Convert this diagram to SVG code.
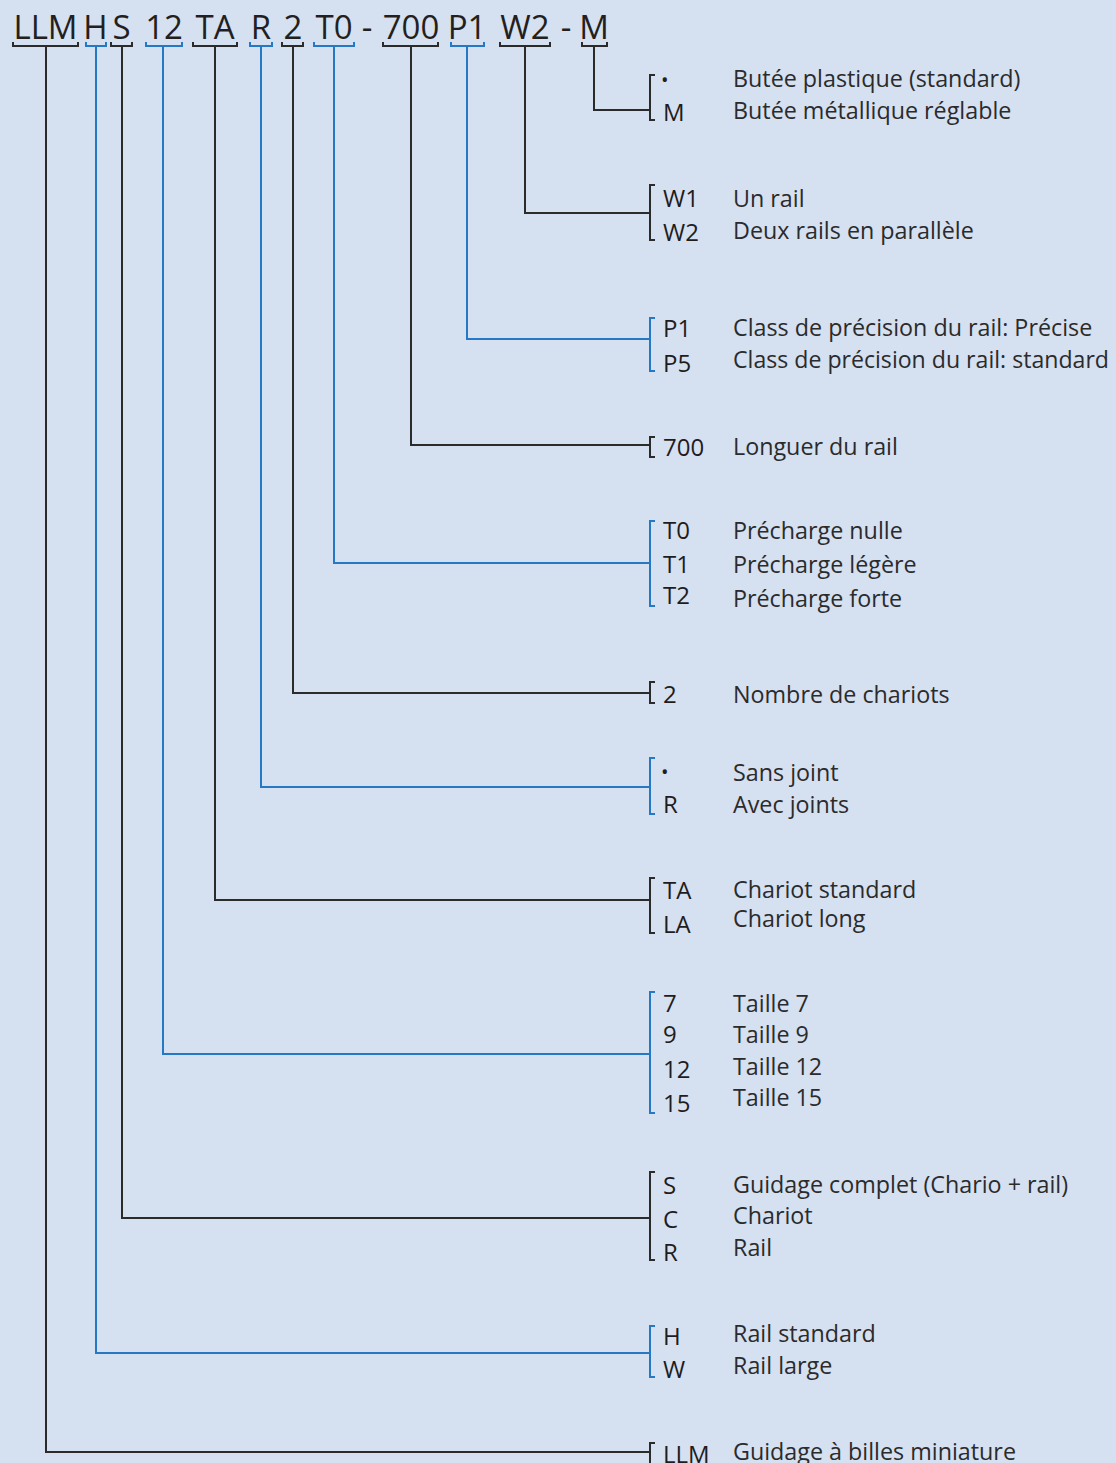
<svg xmlns="http://www.w3.org/2000/svg" width="1116" height="1463" viewBox="0 0 1116 1463">
<style>
.hd{font-family:"Open Sans","Noto Sans",sans-serif;font-size:33px;fill:#231f20;text-anchor:middle}
.cd{font-family:"Open Sans","Noto Sans",sans-serif;font-size:24px;fill:#1f1c1d}
.ds{font-family:"Open Sans","Noto Sans",sans-serif;font-size:23.3px;fill:#2b2b2b}
.dot{font-family:"Open Sans","Noto Sans",sans-serif;font-size:20px;fill:#231f20}
.k{fill:none;stroke:#2b2b2b;stroke-width:2}
.b{fill:none;stroke:#2579c4;stroke-width:2}
</style>
<rect width="1116" height="1463" fill="#d5e0f1"/>
<g id="header">
<text class="hd" x="45.5" y="39">LLM</text>
<text class="hd" x="95.5" y="39">H</text>
<text class="hd" x="121.5" y="39">S</text>
<text class="hd" x="164" y="39">12</text>
<text class="hd" x="215" y="39">TA</text>
<text class="hd" x="261" y="39">R</text>
<text class="hd" x="293" y="39">2</text>
<text class="hd" x="334" y="39">T0</text>
<text class="hd" x="367" y="39">-</text>
<text class="hd" x="411" y="39">700</text>
<text class="hd" x="467" y="39">P1</text>
<text class="hd" x="525" y="39">W2</text>
<text class="hd" x="566" y="39">-</text>
<text class="hd" x="594" y="39">M</text>
<path class="k" d="M13 42V46H78V42"/>
<path class="b" d="M86 42V46H106V42"/>
<path class="k" d="M111 42V46H132V42"/>
<path class="b" d="M146 42V46H182V42"/>
<path class="k" d="M193 42V46H237V42"/>
<path class="b" d="M250 42V46H272V42"/>
<path class="k" d="M282 42V46H303V42"/>
<path class="b" d="M314 42V46H354V42"/>
<path class="k" d="M383 42V46H438V42"/>
<path class="b" d="M451 42V46H484V42"/>
<path class="k" d="M500 42V46H550V42"/>
<path class="k" d="M582 42V46H607V42"/>
</g>
<g id="connectors">
<path class="k" d="M594 46V110H650"/>
<path class="k" d="M525 46V213H650"/>
<path class="b" d="M467 46V339H650"/>
<path class="k" d="M411 46V445H650"/>
<path class="b" d="M334 46V563H650"/>
<path class="k" d="M293 46V693H650"/>
<path class="b" d="M261 46V787H650"/>
<path class="k" d="M215 46V900H650"/>
<path class="b" d="M163 46V1054H650"/>
<path class="k" d="M122 46V1218H650"/>
<path class="b" d="M96 46V1353H650"/>
<path class="k" d="M46 46V1452H650"/>
</g>
<g id="node-M">
<path class="k" d="M655 75H650V120H655"/>
<text class="dot" x="661" y="87">•</text>
<text class="cd" x="663" y="121">M</text>
<text class="ds" x="733" y="87">Butée plastique (standard)</text>
<text class="ds" x="733" y="119">Butée métallique réglable</text>
</g>
<g id="node-W">
<path class="k" d="M655 185H650V240H655"/>
<text class="cd" x="663" y="207">W1</text>
<text class="cd" x="663" y="241">W2</text>
<text class="ds" x="733" y="207">Un rail</text>
<text class="ds" x="733" y="239">Deux rails en parallèle</text>
</g>
<g id="node-P">
<path class="b" d="M655 318H650V371H655"/>
<text class="cd" x="663" y="337">P1</text>
<text class="cd" x="663" y="372">P5</text>
<text class="ds" x="733" y="336">Class de précision du rail: Précise</text>
<text class="ds" x="733" y="368" textLength="376" lengthAdjust="spacingAndGlyphs">Class de précision du rail: standard</text>
</g>
<g id="node-700">
<path class="k" d="M655 437H650V457H655"/>
<text class="cd" x="663" y="456">700</text>
<text class="ds" x="733" y="455">Longuer du rail</text>
</g>
<g id="node-T">
<path class="b" d="M655 521H650V606H655"/>
<text class="cd" x="663" y="539">T0</text>
<text class="cd" x="663" y="573">T1</text>
<text class="cd" x="663" y="604">T2</text>
<text class="ds" x="733" y="539">Précharge nulle</text>
<text class="ds" x="733" y="573">Précharge légère</text>
<text class="ds" x="733" y="607">Précharge forte</text>
</g>
<g id="node-2">
<path class="k" d="M655 682H650V703H655"/>
<text class="cd" x="663" y="703">2</text>
<text class="ds" x="733" y="703">Nombre de chariots</text>
</g>
<g id="node-R">
<path class="b" d="M655 758H650V814H655"/>
<text class="dot" x="661" y="779">•</text>
<text class="cd" x="663" y="813">R</text>
<text class="ds" x="733" y="781">Sans joint</text>
<text class="ds" x="733" y="813">Avec joints</text>
</g>
<g id="node-TA">
<path class="k" d="M655 878H650V933H655"/>
<text class="cd" x="663" y="899">TA</text>
<text class="cd" x="663" y="933">LA</text>
<text class="ds" x="733" y="898">Chariot standard</text>
<text class="ds" x="733" y="927">Chariot long</text>
</g>
<g id="node-size">
<path class="b" d="M655 992H650V1113H655"/>
<text class="cd" x="663" y="1012">7</text>
<text class="cd" x="663" y="1043">9</text>
<text class="cd" x="663" y="1078">12</text>
<text class="cd" x="663" y="1112">15</text>
<text class="ds" x="733" y="1012">Taille 7</text>
<text class="ds" x="733" y="1043">Taille 9</text>
<text class="ds" x="733" y="1075">Taille 12</text>
<text class="ds" x="733" y="1106">Taille 15</text>
</g>
<g id="node-S">
<path class="k" d="M655 1172H650V1260H655"/>
<text class="cd" x="663" y="1194">S</text>
<text class="cd" x="663" y="1228">C</text>
<text class="cd" x="663" y="1261">R</text>
<text class="ds" x="733" y="1193">Guidage complet (Chario + rail)</text>
<text class="ds" x="733" y="1224">Chariot</text>
<text class="ds" x="733" y="1256">Rail</text>
</g>
<g id="node-H">
<path class="b" d="M655 1326H650V1377H655"/>
<text class="cd" x="663" y="1345">H</text>
<text class="cd" x="663" y="1378">W</text>
<text class="ds" x="733" y="1342">Rail standard</text>
<text class="ds" x="733" y="1374">Rail large</text>
</g>
<g id="node-LLM">
<path class="k" d="M655 1443H650V1470H655"/>
<text class="cd" x="663" y="1463">LLM</text>
<text class="ds" x="733" y="1460">Guidage à billes miniature</text>
</g>
</svg>
